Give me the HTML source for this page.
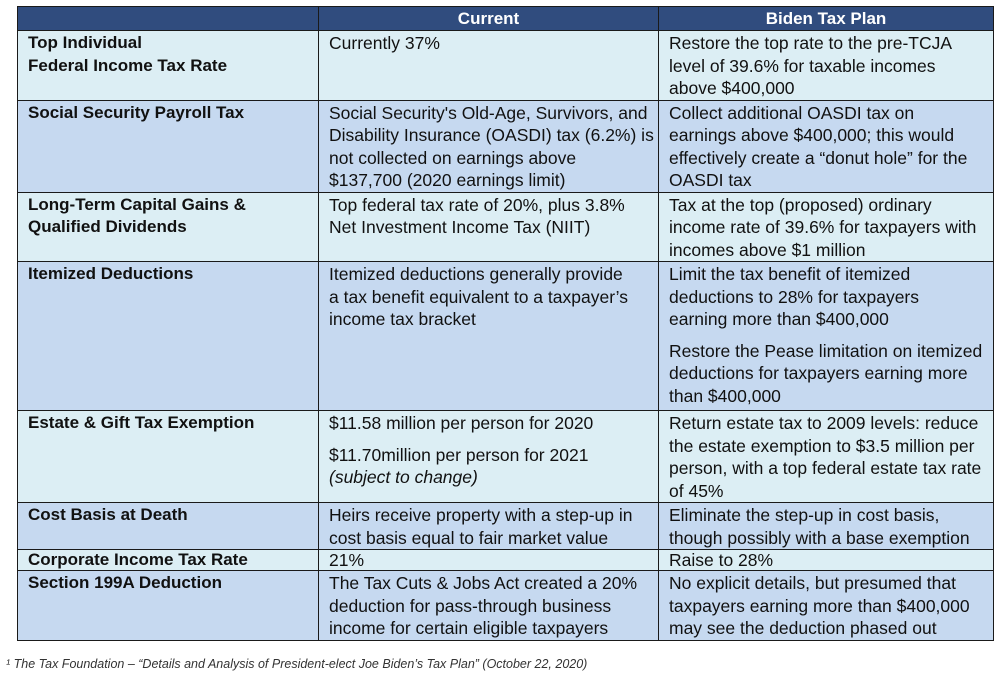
<!DOCTYPE html>
<html><head><meta charset="utf-8"><style>
body{margin:0;width:1008px;height:679px;background:#fff;font-family:"Liberation Sans",sans-serif;overflow:hidden;position:relative}
table{position:absolute;left:17px;top:6px;border-collapse:collapse;table-layout:fixed;width:976px}
td,th{border:1.5px solid #1a1a1a;vertical-align:top;padding:1px 6px 0 10px;font-size:17.5px;line-height:22.5px;color:#111;white-space:nowrap;overflow:hidden}
th{background:#304c7e;color:#fff;font-weight:bold;height:23px;padding:0;text-align:center;line-height:23px;font-size:17px}
td.l{font-weight:bold;font-size:17px}
tr.a td{background:#dceef4}
tr.b td{background:#c6d9f0}
p{margin:0}
.gap{margin-top:9px}
#foot{position:absolute;left:6px;top:657px;font-size:12.5px;font-style:italic;color:#333}
</style></head><body>
<table>
<colgroup><col style="width:301px"><col style="width:340px"><col style="width:335px"></colgroup>
<tr><th></th><th>Current</th><th>Biden Tax Plan</th></tr>
<tr class="a" style="height:69px"><td class="l">Top Individual<br>Federal Income Tax Rate</td><td>Currently 37%</td><td>Restore the top rate to the pre-TCJA<br>level of 39.6% for taxable incomes<br>above $400,000</td></tr>
<tr class="b" style="height:90px"><td class="l">Social Security Payroll Tax</td><td>Social Security's Old-Age, Survivors, and<br>Disability Insurance (OASDI) tax (6.2%) is<br>not collected on earnings above<br>$137,700 (2020 earnings limit)</td><td>Collect additional OASDI tax on<br>earnings above $400,000; this would<br>effectively create a “donut hole” for the<br>OASDI tax</td></tr>
<tr class="a" style="height:69px"><td class="l">Long-Term Capital Gains &amp;<br>Qualified Dividends</td><td>Top federal tax rate of 20%, plus 3.8%<br>Net Investment Income Tax (NIIT)</td><td>Tax at the top (proposed) ordinary<br>income rate of 39.6% for taxpayers with<br>incomes above $1 million</td></tr>
<tr class="b" style="height:149px"><td class="l">Itemized Deductions</td><td>Itemized deductions generally provide<br>a tax benefit equivalent to a taxpayer’s<br>income tax bracket</td><td><p>Limit the tax benefit of itemized<br>deductions to 28% for taxpayers<br>earning more than $400,000</p><p class="gap">Restore the Pease limitation on itemized<br>deductions for taxpayers earning more<br>than $400,000</p></td></tr>
<tr class="a" style="height:89px"><td class="l">Estate &amp; Gift Tax Exemption</td><td><p>$11.58 million per person for 2020</p><p class="gap">$11.70million per person for 2021<br><i>(subject to change)</i></p></td><td>Return estate tax to 2009 levels: reduce<br>the estate exemption to $3.5 million per<br>person, with a top federal estate tax rate<br>of 45%</td></tr>
<tr class="b" style="height:47px"><td class="l">Cost Basis at Death</td><td>Heirs receive property with a step-up in<br>cost basis equal to fair market value</td><td>Eliminate the step-up in cost basis,<br>though possibly with a base exemption</td></tr>
<tr class="a" style="height:21px"><td class="l" style="padding-top:0;line-height:20px">Corporate Income Tax Rate</td><td style="padding-top:0;line-height:20px">21%</td><td style="padding-top:0;line-height:20px">Raise to 28%</td></tr>
<tr class="b" style="height:69px"><td class="l">Section 199A Deduction</td><td>The Tax Cuts &amp; Jobs Act created a 20%<br>deduction for pass-through business<br>income for certain eligible taxpayers</td><td>No explicit details, but presumed that<br>taxpayers earning more than $400,000<br>may see the deduction phased out</td></tr>
</table>
<div id="foot">¹ The Tax Foundation – “Details and Analysis of President-elect Joe Biden’s Tax Plan” (October 22, 2020)</div>
</body></html>
